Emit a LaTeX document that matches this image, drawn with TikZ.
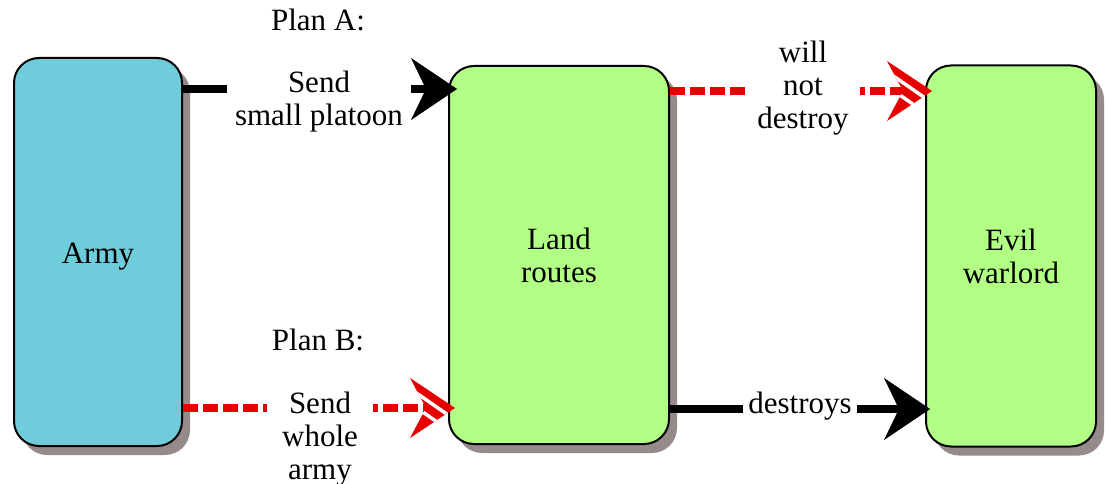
\documentclass[tikz,border=0pt]{standalone}
\usepackage{fontspec}
\setmainfont{Liberation Serif}
\usetikzlibrary{arrows.meta,shadows,calc}
\definecolor{armyfill}{HTML}{6FCDDB}
\definecolor{greenfill}{HTML}{B2FF86}
\definecolor{shadowgray}{HTML}{968B8B}
\definecolor{hatchred}{HTML}{E60000}
\begin{document}
\begin{tikzpicture}[x=1pt,y=-1pt,
  font=\rmfamily\fontsize{31}{33}\selectfont,
  box/.style={draw=black,line width=2pt,rounded corners=25pt,align=center,
    drop shadow={shadow xshift=8pt,shadow yshift=-9pt,fill=shadowgray,opacity=1}},
  lbl/.style={align=center,fill=white,inner xsep=8pt,inner ysep=2pt},
  solidarrow/.style={line width=8pt,-{Stealth[length=46pt,width=62pt,inset=15pt,line width=0.5pt]}},
  hatchline/.style={line width=8pt,draw=hatchred,dash pattern=on 15pt off 5pt},
  hatchhead/.pic={
    \begin{scope}
      \clip (0,0) -- (-45,-30) -- (-29,0) -- (-45,30) -- cycle;
      \fill[hatchred] (-50,-35) rectangle (5,35);
      \foreach \k in {-38,-17,4} {
        \draw[white,line width=3.5pt] (\k-49,-34) -- (\k+49,34);
      }
    \end{scope}}]
\useasboundingbox (0,0) rectangle (1108,484);

% boxes
\node[box,fill=armyfill,minimum width=168pt,minimum height=388pt,text height=29pt] (army) at (98,252) {Army};
\node[box,fill=greenfill,minimum width=220pt,minimum height=378pt] (land) at (559,255) {Land\\routes};
\node[box,fill=greenfill,minimum width=170pt,minimum height=381pt] (evil) at (1011,256) {Evil\\warlord};

% helper heights
\coordinate (yA) at (0,89);
\coordinate (yW) at (0,91);
\coordinate (yB) at (0,408);
\coordinate (yD) at (0,409);

% Plan A: army -> land (solid)
\coordinate (a1) at (army.east |- yA);
\coordinate (a2) at ($(land.west |- yA)+(9,0)$);
\draw[solidarrow] (a1) -- (a2);

% land -> evil (hatched, will not destroy)
\coordinate (w1) at (land.east |- yW);
\coordinate (w3) at ($(evil.west |- yW)+(7,0)$);
\coordinate (w2) at ($(w3)+(-22,0)$);
\draw[hatchline] (w1) -- (w2);
\pic at (w3) {hatchhead};

% Plan B: army -> land (hatched)
\coordinate (b1) at (army.east |- yB);
\coordinate (b3) at ($(land.west |- yB)+(7,0)$);
\coordinate (b2) at ($(b3)+(-22,0)$);
\draw[hatchline] (b1) -- (b2);
\pic at (b3) {hatchhead};

% land -> evil (solid, destroys)
\coordinate (d1) at (land.east |- yD);
\coordinate (d2) at ($(evil.west |- yD)+(5,0)$);
\draw[solidarrow] (d1) -- (d2);

% labels
\node[lbl] (lA) at (319,102) {Send\\small platoon};
\node[lbl,inner xsep=11pt] (lW) at (803,88) {will\\not\\destroy};
\node[lbl,inner xsep=15pt] (lB) at (320,439) {Send\\whole\\army};
\node[lbl,inner xsep=5pt] (lD) at (800,406) {destroys};
\node (pA) at (318,20) {Plan A:};
\node (pB) at (318,340) {Plan B:};
\end{tikzpicture}
\end{document}
